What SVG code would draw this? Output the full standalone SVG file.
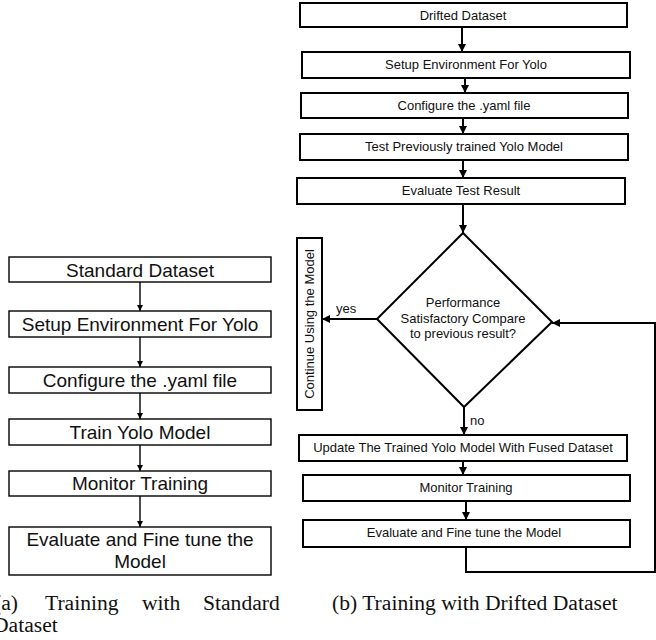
<svg xmlns="http://www.w3.org/2000/svg" width="656" height="640" viewBox="0 0 656 640">
<style>
.bl{fill:#fff;stroke:#000;stroke-width:1.4}
.br{fill:#fff;stroke:#000;stroke-width:2}
.tl{font-family:"Liberation Sans",Arial,sans-serif;font-size:19px;fill:#111;text-anchor:middle}
.tr{font-family:"Liberation Sans",Arial,sans-serif;font-size:13px;fill:#111;text-anchor:middle}
.cap{font-family:"Liberation Serif","Times New Roman",serif;font-size:21.6px;fill:#111}
.cl{stroke:#000;stroke-width:1.4;fill:none}
.cr{stroke:#000;stroke-width:2;fill:none}
</style>
<defs>
<marker id="ah" viewBox="0 0 10 10" refX="10" refY="5" markerWidth="6" markerHeight="6" markerUnits="userSpaceOnUse" orient="auto"><path d="M0,0 L10,5 L0,10 z" fill="#000"/></marker>
<marker id="ahr" viewBox="0 0 10 10" refX="10" refY="5" markerWidth="8" markerHeight="8" markerUnits="userSpaceOnUse" orient="auto"><path d="M0,0 L10,5 L0,10 z" fill="#000"/></marker>
</defs>
<g id="connectors">
<line class="cl" x1="140" y1="282" x2="140" y2="311" marker-end="url(#ah)"/>
<line class="cl" x1="140" y1="337" x2="140" y2="367" marker-end="url(#ah)"/>
<line class="cl" x1="140" y1="393" x2="140" y2="419" marker-end="url(#ah)"/>
<line class="cl" x1="140" y1="445" x2="140" y2="471" marker-end="url(#ah)"/>
<line class="cl" x1="140" y1="496" x2="140" y2="527" marker-end="url(#ah)"/>
<line class="cr" x1="462" y1="27" x2="462" y2="52" marker-end="url(#ahr)"/>
<line class="cr" x1="465" y1="78" x2="465" y2="93" marker-end="url(#ahr)"/>
<line class="cr" x1="463" y1="118" x2="463" y2="134" marker-end="url(#ahr)"/>
<line class="cr" x1="463" y1="160" x2="463" y2="178" marker-end="url(#ahr)"/>
<line class="cr" x1="463" y1="204" x2="463" y2="233" marker-end="url(#ahr)"/>
<line class="cr" x1="377" y1="319" x2="322" y2="319" marker-end="url(#ahr)"/>
<line class="cr" x1="464" y1="407" x2="464" y2="435" marker-end="url(#ahr)"/>
<line class="cr" x1="463" y1="461" x2="463" y2="475" marker-end="url(#ahr)"/>
<line class="cr" x1="466" y1="501" x2="466" y2="520" marker-end="url(#ahr)"/>
<polyline class="cr" points="466,547 466,572 655,572 655,323 552,323" marker-end="url(#ahr)"/>
<text class="tr" x="336" y="313" style="text-anchor:start">yes</text>
<text class="tr" x="470" y="425" style="text-anchor:start">no</text>
</g>
<g id="a1"><rect class="bl" x="9" y="257" width="262" height="25"/><text class="tl" x="140" y="277">Standard Dataset</text></g>
<g id="a2"><rect class="bl" x="9" y="311" width="262" height="26"/><text class="tl" x="140" y="331">Setup Environment For Yolo</text></g>
<g id="a3"><rect class="bl" x="9" y="367" width="262" height="26"/><text class="tl" x="140" y="387">Configure the .yaml file</text></g>
<g id="a4"><rect class="bl" x="9" y="419" width="262" height="26"/><text class="tl" x="140" y="439">Train Yolo Model</text></g>
<g id="a5"><rect class="bl" x="9" y="471" width="262" height="25"/><text class="tl" x="140" y="490">Monitor Training</text></g>
<g id="a6"><rect class="bl" x="9" y="527" width="262" height="48"/><text class="tl" x="140" y="546">Evaluate and Fine tune the</text><text class="tl" x="140" y="568">Model</text></g>
<g id="b1"><rect class="br" x="300" y="3" width="327" height="24"/><text class="tr" x="463" y="20">Drifted Dataset</text></g>
<g id="b2"><rect class="br" x="302" y="52" width="328" height="26"/><text class="tr" x="466" y="69">Setup Environment For Yolo</text></g>
<g id="b3"><rect class="br" x="301" y="93" width="327" height="25"/><text class="tr" x="464" y="110">Configure the .yaml file</text></g>
<g id="b4"><rect class="br" x="300" y="134" width="328" height="26"/><text class="tr" x="464" y="151">Test Previously trained Yolo Model</text></g>
<g id="b5"><rect class="br" x="297" y="178" width="328" height="26"/><text class="tr" x="461" y="195">Evaluate Test Result</text></g>
<g id="b6"><polygon class="br" points="463,233 552,322 464,407 377,319"/><text class="tr" x="463" y="307">Performance</text><text class="tr" x="463" y="323">Satisfactory Compare</text><text class="tr" x="463" y="338">to previous result?</text></g>
<g id="b7"><rect class="br" x="297" y="238" width="25" height="172"/><text class="tr" transform="translate(314,324) rotate(-90)" x="0" y="0">Continue Using the Model</text></g>
<g id="b8"><rect class="br" x="299" y="435" width="328" height="26"/><text class="tr" x="463" y="452">Update The Trained Yolo Model With Fused Dataset</text></g>
<g id="b9"><rect class="br" x="303" y="475" width="327" height="26"/><text class="tr" x="466" y="492">Monitor Training</text></g>
<g id="b10"><rect class="br" x="303" y="520" width="327" height="27"/><text class="tr" x="464" y="537">Evaluate and Fine tune the Model</text></g>
<g id="captions">
<text class="cap" x="-6" y="610">(a)</text>
<text class="cap" x="45" y="610">Training</text>
<text class="cap" x="142" y="610">with</text>
<text class="cap" x="203" y="610">Standard</text>
<text class="cap" x="-7" y="632">Dataset</text>
<text class="cap" x="332" y="610">(b) Training with Drifted Dataset</text>
</g>
</svg>
